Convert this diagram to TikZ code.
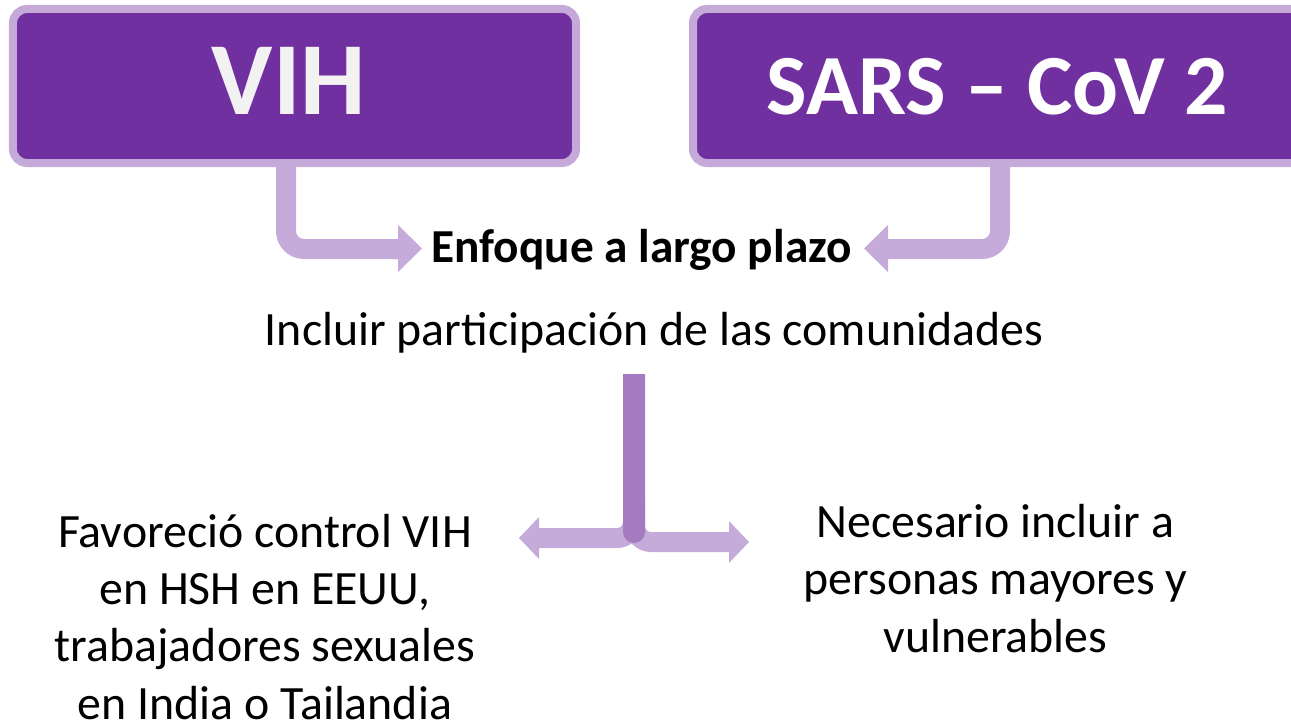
\documentclass[tikz,border=0pt]{standalone}
\usepackage{fontspec}
\setmainfont{Carlito}
\definecolor{boxfill}{HTML}{7030A0}
\definecolor{boxline}{HTML}{C5A9D9}
\definecolor{arrowlight}{HTML}{C5ABDA}
\definecolor{stemdark}{HTML}{A47BC0}
\begin{document}
\begin{tikzpicture}[x=1bp,y=-1bp,
  titlebox/.style={rounded corners=14bp, fill=boxfill, draw=boxline, line width=8bp, inner sep=0pt},
  bentarrow/.style={draw=arrowlight, line width=20bp, rounded corners=18bp},
  headstyle/.style={fill=arrowlight},
  plain/.style={inner sep=0pt, align=center, font=\fontsize{48}{57.5}\selectfont},
]
\useasboundingbox (0,0) rectangle (1291,722);
\begin{scope}
\clip (0,0) rectangle (1291,722);
% title boxes
\node[titlebox, minimum width=563bp, minimum height=154bp] (vih) at (294.5,86) {};
\node[titlebox, minimum width=640bp, minimum height=154bp, anchor=west] (sars) at (689,86) {};
\node[inner sep=0pt, text=white!95!black, font=\fontsize{104}{110}\selectfont\bfseries] (vihtxt) at (289,81) {VIH};
\node[inner sep=0pt, text=white, font=\fontsize{86}{90}\selectfont\bfseries] (sarstxt) at (997.5,86.5) {SARS – CoV 2};

% central texts
\node[plain, anchor=base, font=\fontsize{47.5}{57.5}\selectfont\bfseries] (enf) at (641.5,262) {Enfoque a largo plazo};
\node[plain, anchor=base] (incl) at (654,345) {Incluir participación de las comunidades};

% bottom texts (base = last line)
\node[plain, anchor=base] (left) at (265,719) {Favoreció control VIH\\en HSH en EEUU,\\trabajadores sexuales\\en India o Tailandia};
\node[plain, anchor=base] (right) at (995.5,652) {Necesario incluir a\\personas mayores y\\vulnerables};

% bent arrows from boxes to "Enfoque"
\coordinate (la) at (286,163);
\coordinate (lh) at (398,249);
\draw[bentarrow] (la) |- (lh);
\fill[headstyle] (398,225) -- (422,248.5) -- (398,272) -- cycle;
\coordinate (ra) at (1000,163);
\coordinate (rh) at (888,249);
\draw[bentarrow] (ra) |- (rh);
\fill[headstyle] (888,225) -- (864,248.5) -- (888,272) -- cycle;

% split arrows below
\coordinate (stemtop) at (634,374);
\coordinate (lsplit) at (539,538);
\coordinate (rsplit) at (729,542);
\draw[bentarrow, rounded corners=16bp] (633,500) |- (lsplit);
\fill[headstyle] (539,517) -- (519,538) -- (539,559) -- cycle;
\draw[bentarrow, rounded corners=16bp] (635,500) |- (rsplit);
\fill[headstyle] (729,521) -- (749,542) -- (729,563) -- cycle;
\fill[stemdark] (623,374) -- (645,374) -- (645,532) arc[start angle=0, end angle=180, radius=11] -- cycle;
\end{scope}
\end{tikzpicture}
\end{document}
